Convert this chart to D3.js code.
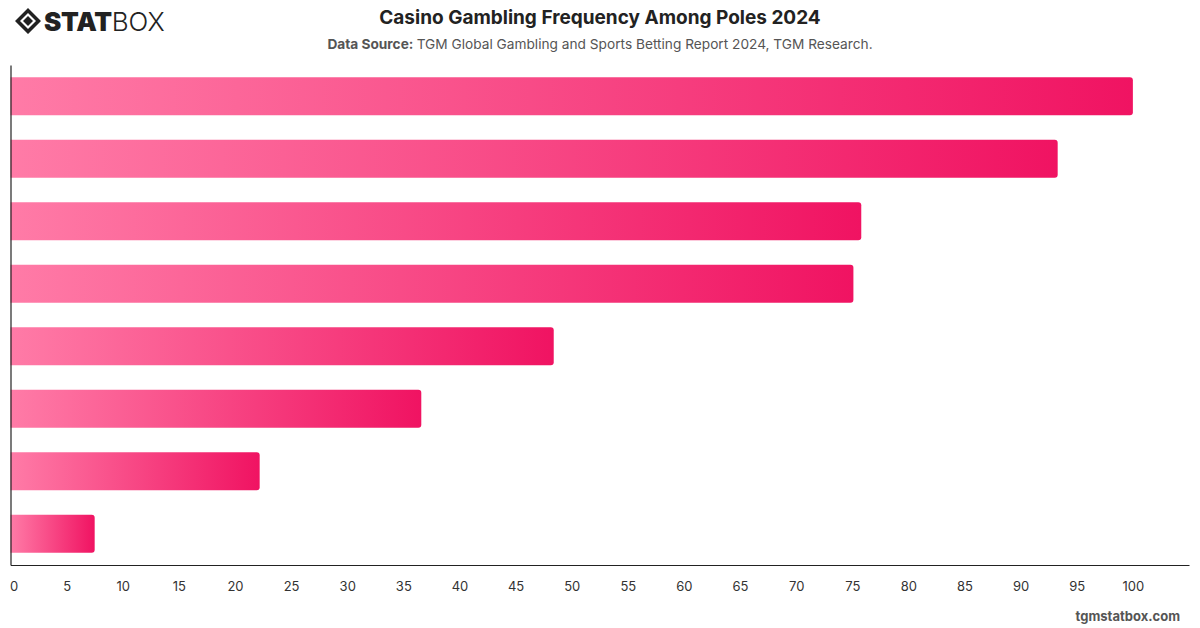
<!DOCTYPE html>
<html lang="en">
<head>
<meta charset="utf-8">
<title>Casino Gambling Frequency Among Poles 2024</title>
<script src="https://d3js.org/d3.v7.min.js"></script>
<style>
  body { margin: 0; background: #fff; }
  text { font-family: Inter, "Noto Sans", sans-serif; }
</style>
</head>
<body>
<script>
// bar values, top to bottom (no category labels shown on the chart)
var categories = ["c1", "c2", "c3", "c4", "c5", "c6", "c7", "c8"];
var values = [100, 93.3, 75.8, 75.1, 48.4, 36.6, 22.2, 7.5];
var tickValues = [0, 5, 10, 15, 20, 25, 30, 35, 40, 45, 50, 55, 60, 65, 70, 75, 80, 85, 90, 95, 100];

var W = 1200, H = 628;
var plot = {left: 10.5, right: 1189, top: 65, bottom: 565};

var svg = d3.select("body").append("svg")
    .attr("width", W)
    .attr("height", H);

var x = d3.scaleLinear().domain([0, 105]).range([plot.left, plot.right]);
var y = d3.scaleBand().domain(categories).range([plot.top, plot.bottom])
    .paddingInner(0.39).paddingOuter(0.195);

// gradient for bars
var defs = svg.append("defs");
var grad = defs.append("linearGradient").attr("id", "barGrad")
    .attr("x1", "0%").attr("x2", "100%").attr("y1", "0%").attr("y2", "0%");
grad.append("stop").attr("offset", "0%").attr("stop-color", "#ff7ba7");
grad.append("stop").attr("offset", "100%").attr("stop-color", "#f01362");

// title
svg.append("text")
    .attr("x", 600).attr("y", 24)
    .attr("text-anchor", "middle")
    .attr("font-weight", "bold")
    .style("font-size", "19px")
    .style("fill", "#222")
    .text("Casino Gambling Frequency Among Poles 2024");

var sub = svg.append("text")
    .attr("x", 600).attr("y", 49)
    .attr("text-anchor", "middle")
    .style("font-size", "13.7px")
    .style("fill", "#555");
sub.append("tspan").attr("font-weight", "bold").text("Data Source: ");
sub.append("tspan").text("TGM Global Gambling and Sports Betting Report 2024, TGM Research.");

// logo
var logo = svg.append("g").attr("transform", "translate(15,8)");
logo.append("path")
    .attr("d", "M13,0 L26,13 L13,26 L0,13 Z M13,5 L5,13 L13,21 L21,13 Z")
    .attr("fill", "#222").attr("fill-rule", "evenodd");
logo.append("path")
    .attr("d", "M13,8 L18,13 L13,18 L8,13 Z")
    .attr("fill", "#222");
logo.append("text")
    .attr("x", 29).attr("y", 23)
    .style("font-size", "26px")
    .style("font-weight", "900")
    .style("fill", "#222")
    .style("letter-spacing", "-0.3px")
    .text("STAT")
  .append("tspan")
    .style("font-weight", "300")
    .style("letter-spacing", "0px")
    .text("BOX");

// bars with rounded right end
function barPath(v, yy, h) {
  var x0 = x(0), x1 = x(v), r = Math.min(3, (x1 - x0) / 2);
  return "M" + x0 + "," + yy +
    "H" + (x1 - r) +
    "Q" + x1 + "," + yy + " " + x1 + "," + (yy + r) +
    "V" + (yy + h - r) +
    "Q" + x1 + "," + (yy + h) + " " + (x1 - r) + "," + (yy + h) +
    "H" + x0 + "Z";
}

svg.append("g").selectAll("path")
    .data(values)
    .enter().append("path")
    .attr("d", function(d, i) { return barPath(d, y(categories[i]), y.bandwidth()); })
    .attr("fill", "url(#barGrad)");

// axes
var xAxis = svg.append("g")
    .attr("transform", "translate(0," + plot.bottom + ")")
    .call(d3.axisBottom(x).tickValues(tickValues).tickSize(0).tickPadding(17));
xAxis.select(".domain").attr("stroke", "#222").attr("stroke-width", 1.2);
xAxis.selectAll(".tick text")
    .style("font-size", "13px")
    .style("fill", "#333")
    .attr("dx", function(d) { return d === 0 ? 3 : 0; });

var yAxis = svg.append("g")
    .attr("transform", "translate(" + plot.left + ",0)")
    .call(d3.axisLeft(y).tickSize(0).tickFormat(""));
yAxis.select(".domain").attr("stroke", "#222").attr("stroke-width", 1.2);

// watermark
svg.append("text")
    .attr("x", 1180).attr("y", 621)
    .attr("text-anchor", "end")
    .attr("font-weight", "bold")
    .style("font-size", "13px")
    .style("fill", "#555")
    .text("tgmstatbox.com");
</script>
</body>
</html>
